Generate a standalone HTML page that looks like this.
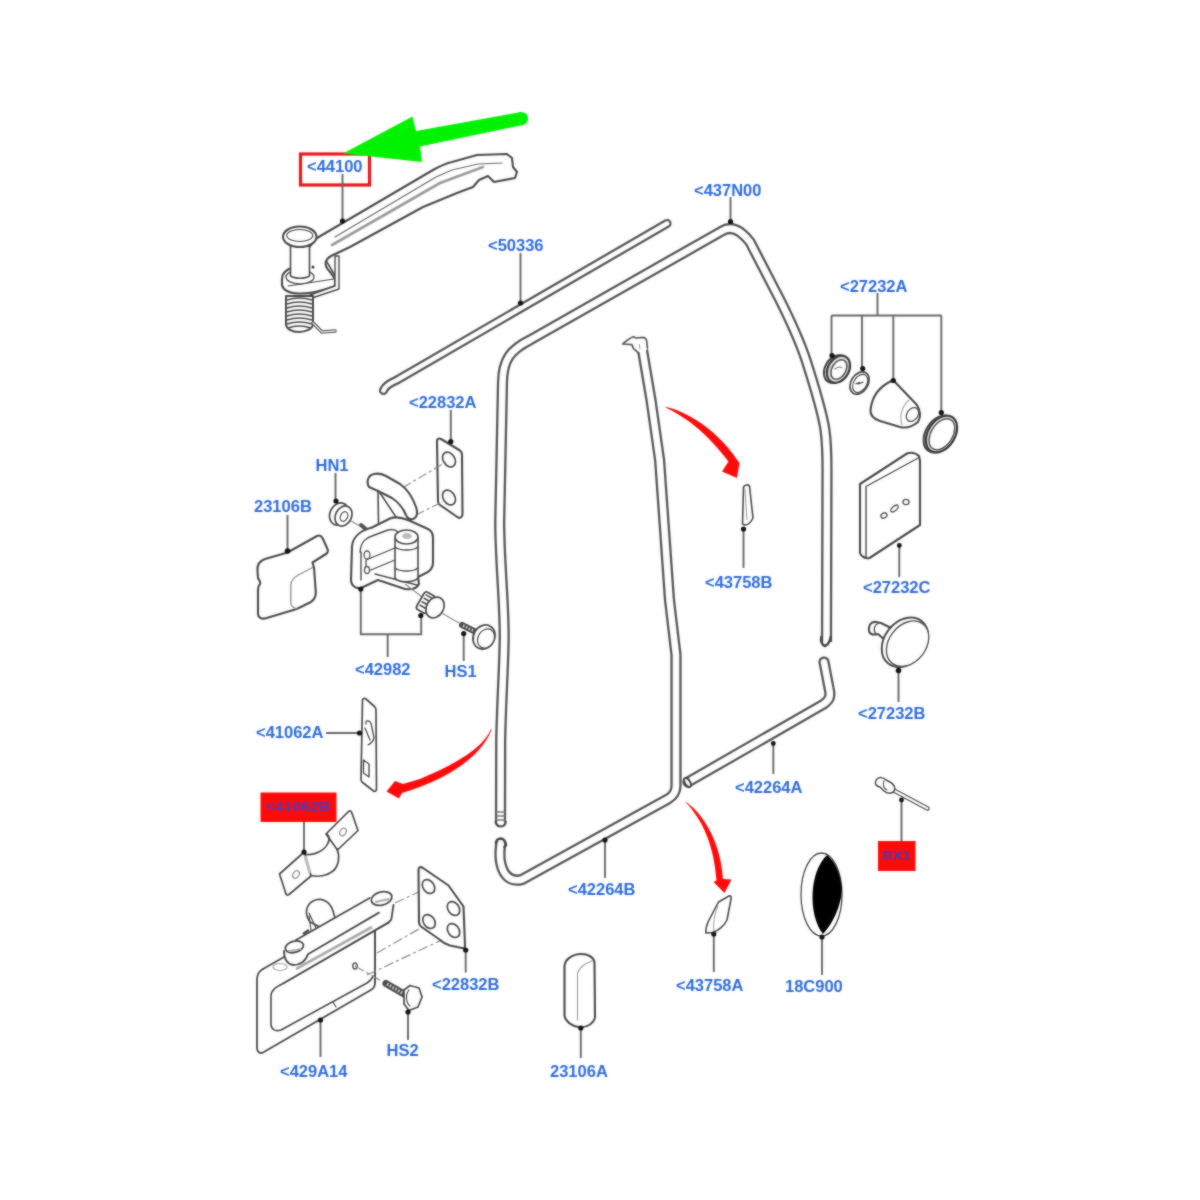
<!DOCTYPE html>
<html><head><meta charset="utf-8">
<style>
html,body{margin:0;padding:0;background:#fff;width:1200px;height:1200px;overflow:hidden}
svg{display:block}
.t{font-family:"Liberation Sans",sans-serif;font-weight:bold;font-size:16.5px;fill:#2d6bdc}
.l{stroke:#666;stroke-width:1.9;fill:none}
.p{stroke:#484848;stroke-width:2.1;fill:#fff;stroke-linejoin:round;stroke-linecap:round}
.q{stroke:#484848;stroke-width:1.6;fill:none;stroke-linejoin:round;stroke-linecap:round}
</style></head>
<body>
<svg width="1200" height="1200" viewBox="0 0 1200 1200">
<defs><filter id="soft" x="0" y="0" width="1200" height="1200" filterUnits="userSpaceOnUse" color-interpolation-filters="sRGB"><feGaussianBlur in="SourceGraphic" stdDeviation="0.8" result="bl"/><feComposite in="SourceGraphic" in2="bl" operator="arithmetic" k1="0" k2="0.5" k3="0.5" k4="0"/></filter></defs>
<g filter="url(#soft)">
<rect x="0" y="0" width="1200" height="1200" fill="#fff"/>

<!--HANDLE 44100-->
<g>
<rect x="300.5" y="154" width="69" height="31" fill="none" stroke="#e8141c" stroke-width="3.2"/>
<line class="l" x1="342.5" y1="174" x2="342.5" y2="221"/>
<!-- arm -->
<path class="p" d="M317,238 L433,170 C440,166 444,164 452,162 L477,155 L507,154 L512,158 L513,167 L517,172 L515,178 L494,182 L488,176 L479,180 L473,187 L457,193 L423,207 L350,247 L331,256 C324,260 324,266 330,272 L335,279 L335,286 C322,291 308,294 298,293.5 C289,293 283,290 282,285 L282,279 C282,274 286,270 291,268 Z"/>
<path style="stroke-width:1.2;stroke:#666" class="q" d="M335,237 L436,177 L452,170 L478,164 L502,163"/>
<path style="stroke:#999;stroke-width:2.6" class="q" d="M332,245 L440,183 L483,167"/>
<path class="q" d="M327,262 L335,276"/>
<path style="stroke-width:1.1" class="q" d="M288,286 L334,279"/>
<!-- vertical tab -->
<path style="stroke-width:1.4" class="p" d="M335,256 L339,256 L339,289 L312,298 L310,295 L335,286 Z"/>
<!-- ring hole -->
<ellipse cx="300" cy="277" rx="14" ry="7" fill="#fff" stroke="#505050" stroke-width="1.4"/>
<!-- pin shaft -->
<path style="stroke-width:1.6" class="p" d="M290.5,246 L290.5,276 C295,279 305,279 309.5,276 L309.5,246 Z"/>
<circle cx="313" cy="267" r="1.5" fill="#333"/>
<!-- pin head -->
<ellipse cx="299.75" cy="236.75" rx="16.75" ry="10.25" class="p"/>
<ellipse cx="299.75" cy="235.5" rx="13" ry="6" fill="none" stroke="#444" stroke-width="1.1"/>
<!-- spring -->
<path class="p" d="M286,296 L313,296 L313,324 C313,331 300,332 299,332 C292,332 286,329 286,324 Z" style="stroke-width:2"/>
<g fill="none" stroke="#4a4a4a" stroke-width="1.5">
<path d="M287,300 Q299,296 312,300"/><path d="M287,304 Q299,300 312,304"/><path d="M287,308 Q299,304 312,308"/>
<path d="M287,312 Q299,308 312,312"/><path d="M287,316 Q299,312 312,316"/><path d="M287,320 Q299,316 312,320"/><path d="M287,324 Q299,320 312,324"/><path d="M288,328 Q299,324 311,328"/>
</g>
<path d="M313,323 L322,332 L335,331" fill="none" stroke="#555" stroke-width="3.6" stroke-linecap="round"/>
<path d="M313,323 L322,332 L335,331" fill="none" stroke="#ddd" stroke-width="1.4" stroke-linecap="round"/>
<circle cx="342.5" cy="221" r="2.6" fill="#111"/>
</g>
<!--GREEN ARROW-->
<g fill="#00f200" stroke="none">
<path d="M343,153.5 L412.5,116.5 L416,131 L521,112 L523,125 L420,146.5 L422,162 Z"/>
<circle cx="521.5" cy="118.5" r="6.6"/>
</g>

<!--TUBES-->
<g fill="none" stroke-linejoin="round">
<!-- 50336 strip -->
<path d="M383.5,390.5 C385,386 390,383 397,380 L667,223.5" stroke="#555" stroke-width="9.2" stroke-linecap="round"/>
<path d="M383.5,390.5 C385,386 390,383 397,380 L667,223.5" stroke="#fff" stroke-width="4.6" stroke-linecap="round"/>
<!-- 437N00 frame -->
<path d="M500.5,822 L500.7,740 C501.5,700 504.2,660 504.2,636 C504.2,600 499.7,560 499.7,522 L502.5,382 C503,360 510,350 530,340 L722,231 C728,227 734,228 740,232 C744,235 747,238 750,242 L780,300 C790,320 800,342 806,360 C814,385 822,410 825,430 C827,445 827,455 827,470 L826.5,642" stroke="#555" stroke-width="11.2"/>
<path d="M500.5,822 L500.7,740 C501.5,700 504.2,660 504.2,636 C504.2,600 499.7,560 499.7,522 L502.5,382 C503,360 510,350 530,340 L722,231 C728,227 734,228 740,232 C744,235 747,238 750,242 L780,300 C790,320 800,342 806,360 C814,385 822,410 825,430 C827,445 827,455 827,470 L826.5,642" stroke="#fff" stroke-width="6.6"/>
<!-- channel 43758B + 42264B -->
<path d="M642,347 L651,400 L659.6,460 L669.5,600 L676,655 L676,786 C676,792 673,796 668,799 L522,879.5 C505,884 497,866 501,842" stroke="#555" stroke-width="11.2"/>
<path d="M642,347 L651,400 L659.6,460 L669.5,600 L676,655 L676,786 C676,792 673,796 668,799 L522,879.5 C505,884 497,866 501,842" stroke="#fff" stroke-width="6.6"/>
<!-- channel top cap -->
<path d="M622.7,344 C626,341 630,338 633.3,336.7 L636,338 L643.3,337.3 C645,337.5 646,338.5 646.5,340 L647,350 L638.7,352.5 L633.5,348.7 L632,344.7 Z" fill="#fff" stroke="none"/>
<path d="M638.7,353 L633.5,348.7 L632,344.7 L622.7,344 C626,341 630,338 633.3,336.7 L636,338 L643.3,337.3 C645,337.5 646,338.5 646.5,340 L647.5,348" fill="none" stroke="#555" stroke-width="1.7" stroke-linejoin="round"/>
<path d="M639.3,344 L640,349.3" stroke="#999" stroke-width="1"/>
<!-- 42264A -->
<path d="M688,782 L823,704.5 C830,700 831,696 829,688 L824,662" stroke="#555" stroke-width="11.2" stroke-linecap="round"/>
<path d="M688,782 L823,704.5 C830,700 831,696 829,688 L824,662" stroke="#fff" stroke-width="6.6" stroke-linecap="round"/>
<ellipse cx="687.5" cy="782.5" rx="2.6" ry="5" transform="rotate(-30 687.5 782.5)" fill="#fff" stroke="#444" stroke-width="2"/>
<!-- frame bottom-left ribbed end -->
<path d="M496,812 L505,812 M496,816 L505,816 M496,820 L505,820" stroke="#777" stroke-width="1.3"/>
<path d="M495.5,821 C496,825 498,826.5 500.8,826.5 C503.5,826.5 505.5,825 505.8,821" fill="none" stroke="#444" stroke-width="2.2"/>
<path d="M495.8,844 C496,840 498,838.5 500.8,838.5 C504,839 505.5,841 506,845 L504,848" fill="none" stroke="#444" stroke-width="2.4"/>
<!-- frame right end -->
<path d="M821.5,636 C820,641 822,645 825,646 C828,645 830,641 831,636" stroke="#444" stroke-width="2.4"/>
</g>

<!--RIGHT PARTS-->
<g>
<!-- 437N00 leader -->
<line class="l" x1="730.5" y1="197" x2="730.5" y2="221"/><circle cx="730.5" cy="221.5" r="2.6" fill="#111"/>
<!-- 50336 leader -->
<line class="l" x1="520.5" y1="253" x2="520.5" y2="303"/><circle cx="520.5" cy="303" r="2.6" fill="#111"/>
<!-- 27232A bracket -->
<path class="l" d="M877.5,293 V315.5 M831.5,315.5 H941.5 M831.5,315.5 V355 M862,315.5 V368 M893.3,315.5 V380 M941.3,315.5 V412"/>
<!-- ring1 -->
<g transform="translate(838,369) rotate(30)">
<ellipse cx="-1.8" cy="1.2" rx="10.8" ry="14.8" fill="#fff" stroke="#444" stroke-width="2"/>
<ellipse cx="0.5" cy="0" rx="10.5" ry="14.5" fill="#ddd" stroke="#3a3a3a" stroke-width="2.2"/>
<ellipse cx="1" cy="0" rx="7" ry="10.5" fill="#fff" stroke="#555" stroke-width="1.6"/>
<path d="M-3,2 Q0,-4 3,-3" fill="none" stroke="#777" stroke-width="1"/>
</g>
<circle cx="832" cy="355.5" r="2.6" fill="#111"/>
<!-- ring2 -->
<g transform="translate(859.5,383) rotate(32)">
<ellipse cx="0" cy="0" rx="8.5" ry="12" fill="#fff" stroke="#484848" stroke-width="1.7"/>
<ellipse cx="0.8" cy="0" rx="6.5" ry="9.8" fill="none" stroke="#444" stroke-width="1.1"/>
<path d="M-3,3 L0,-1 L-1,2 L3,-3" fill="none" stroke="#444" stroke-width="1"/>
</g>
<circle cx="862.7" cy="368.5" r="2.6" fill="#111"/>
<!-- cone -->
<path class="p" d="M892.5,380.5 C880,386 872,396 870.5,410 C870,416 874,419 880,421 L900,427 C906,428.5 912,427 918,422 C921,417 921,412 917,405 L894,381 Z"/>
<ellipse cx="912.5" cy="414.5" rx="5.5" ry="7.5" transform="rotate(35 912.5 414.5)" fill="#fff" stroke="#505050" stroke-width="1.3"/>
<path d="M909,400 C902,406 899,416 902,425" fill="none" stroke="#aaa" stroke-width="1.2"/>
<circle cx="893.3" cy="380.5" r="2.6" fill="#111"/>
<!-- ring4 -->
<g transform="translate(941.5,434) rotate(32)">
<ellipse cx="-2" cy="1.2" rx="13.5" ry="20" fill="#fff" stroke="#444" stroke-width="2"/>
<ellipse cx="0" cy="0" rx="13.5" ry="20" fill="#ddd" stroke="#3a3a3a" stroke-width="2.2"/>
<ellipse cx="0.5" cy="0" rx="10.8" ry="17" fill="#fff" stroke="#555" stroke-width="1.4"/>
</g>
<circle cx="941.3" cy="412.5" r="2.6" fill="#111"/>
<!-- plate 27232C -->
<path class="p" d="M860,484 L907,453.5 C911,452 916,453 919,456 L920,461 L920,525 L869.5,558 C865,559 861,556 860,553 Z"/>
<path style="stroke-width:1.4" class="q" d="M866,486.5 L866,557 M866,486.5 L919,457.5"/>
<g fill="#fff" stroke="#505050" stroke-width="1.3">
<ellipse cx="884" cy="515.5" rx="3.2" ry="2.4" transform="rotate(-30 884 515.5)"/>
<ellipse cx="894.5" cy="508.5" rx="4.5" ry="2.2" transform="rotate(-40 894.5 508.5)"/>
<ellipse cx="906" cy="502" rx="3" ry="2.6"/>
</g>
<line class="l" x1="899.3" y1="546" x2="899.3" y2="577"/><circle cx="899.3" cy="545.5" r="2.4" fill="#111"/>
<!-- knob 27232B -->
<path class="p" d="M876,622 C871,621 868,626 869,631 C870,635 874,635 878,634 L886,641 L893,629 L881,623 Z"/>
<path style="stroke-width:1.2" class="q" d="M878,623.5 C874,625 873,631 876,634"/>
<g transform="translate(906.5,643.5) rotate(38)">
<ellipse cx="-2" cy="0" rx="20.5" ry="27" fill="#fff" stroke="#484848" stroke-width="2"/>
<ellipse cx="1" cy="-0.5" rx="18.5" ry="25" fill="#fff" stroke="#505050" stroke-width="1.4"/>
</g>
<line class="l" x1="898.5" y1="671" x2="898.5" y2="702"/><circle cx="898.5" cy="670.5" r="2.8" fill="#111"/>
<!-- 42264A leader -->
<line class="l" x1="773.3" y1="743.5" x2="773.3" y2="774"/><circle cx="773.3" cy="743.5" r="2.4" fill="#111"/>
<!-- RX1 rivet -->
<path d="M893,790 L927.5,808.5" stroke="#505050" stroke-width="4.6" stroke-linecap="round" fill="none"/>
<path d="M893,790 L927.5,808.5" stroke="#fff" stroke-width="2" stroke-linecap="round" fill="none"/>
<path style="stroke-width:1.5" class="p" d="M877,779 C874,782 875,786 880,787 L884,791 C887,794 892,794 894,791 C896,788 894,784 890,782 L886,780 C883,777 879,777 877,779 Z"/>
<path style="stroke-width:1.1" class="q" d="M884,781 C882,784 884,789 887,790"/>
<rect x="878" y="841" width="37.5" height="30" fill="#ff0a0a"/>
<line class="l" x1="901.5" y1="800" x2="901.5" y2="841"/><circle cx="901.5" cy="800" r="2.4" fill="#111"/>
<text x="882.5" y="860" font-family="Liberation Sans,sans-serif" font-weight="bold" font-size="13" fill="#3d3db8" textLength="28" lengthAdjust="spacingAndGlyphs">RX1</text>
<!-- 18C900 -->
<ellipse cx="821.5" cy="894.5" rx="20.5" ry="41.5" fill="#fff" stroke="#484848" stroke-width="1.3"/>
<path d="M827,855 C809,872 808,915 823,934 C838,918 843,895 841.5,886 C840,872 835,862 827,855 Z" fill="#000"/>
<line class="l" x1="822" y1="937" x2="822" y2="975"/><circle cx="822" cy="937" r="2.6" fill="#111"/>
<!-- 43758B wedge -->
<path style="stroke-width:1.6" class="p" d="M743.5,487 C745,485 748,484 749.5,486 L753,518 C751,522 748,525 745,525 L742.5,524 Z"/>
<path style="stroke:#999;stroke-width:1" class="q" d="M745,489 L747,520"/>
<line class="l" x1="743.5" y1="529" x2="743.5" y2="568"/><circle cx="743.5" cy="529" r="2.6" fill="#111"/>
<!-- 43758A wedge -->
<path style="stroke-width:1.6" class="p" d="M718.5,902 L729,896 C731,895.5 731.5,897 731,899 L727,920 C724,926 718,931 713,932.5 L706,933 C705,930 707,925 708,922 Z"/>
<path style="stroke:#999;stroke-width:1" class="q" d="M718,906 C714,915 713,925 714,931"/>
<line class="l" x1="713.8" y1="934" x2="713.8" y2="972"/><circle cx="713.8" cy="934" r="2.6" fill="#111"/>
<!-- 23106A -->
<path class="p" d="M564.5,966 C565,959 573,954 581,954 C588,954 594,957 594.5,963 L595,1018 C593,1024 587,1027 580.5,1027.5 C573,1027 566,1022 564.5,1016 Z"/>
<path style="stroke:#999;stroke-width:1.1" class="q" d="M592,961 C586,963 580,966 577.5,973 L577.5,1020"/>
<line class="l" x1="580.8" y1="1028" x2="580.8" y2="1058"/><circle cx="580.8" cy="1028" r="2.6" fill="#111"/>
<!-- 42264B leader -->
<line class="l" x1="605" y1="840" x2="605" y2="878"/><circle cx="605" cy="840" r="2.6" fill="#111"/>
</g>

<!--LEFT PARTS-->
<g>
<!-- 22832A plate -->
<line class="l" x1="450.8" y1="410" x2="450.8" y2="441"/>
<path class="p" d="M437,441 C437,438.5 439,438 441,439 L460,450.5 C461.5,451.5 462,453 462,455 L462.5,514 C462.5,517 460.5,518.5 458,517.5 L440,505 C438.5,504 438,502.5 438,501 Z"/>
<g fill="#fff" stroke="#484848" stroke-width="1.7">
<ellipse cx="449" cy="459.5" rx="5.8" ry="8" transform="rotate(-32 449 459.5)"/>
<ellipse cx="449" cy="497.5" rx="5.8" ry="8" transform="rotate(-32 449 497.5)"/>
</g>
<circle cx="450.8" cy="441.5" r="2.6" fill="#111"/>
<!-- dashed to holes -->
<path d="M403,487.5 L446,462 M416,515 L446,500" stroke="#888" stroke-width="1.2" stroke-dasharray="9,3,3,3" fill="none"/>
<!-- hinge 42982 -->
<!-- latch arm -->
<path class="p" d="M369,487 C366,482 368,475 374,474 C378,473 382,474 386,476 L400,484 C407,489 413,498 416,507 C418,513 417,518 413,519 C410,520 407,518 406,515 C403,508 398,502 392,498 L378,491 Z"/>
<path style="stroke-width:1.6" class="q" d="M378,491 L378.5,523 M380,493 L398,520"/>
<!-- nut stub + dashed -->
<path d="M349,520 L362,527" stroke="#888" stroke-width="1.2" fill="none"/>
<path d="M361,525 L368,531" stroke="#505050" stroke-width="4" stroke-linecap="round" fill="none"/>
<!-- main bracket body -->
<path class="p" d="M352,546 C353,536 362,530 372,527.5 L390,518.5 C396,516 403,518 408,520 L428,529 C432,531 433,534 433,538 L433,563 C433,568 429,572 424,574 L418,577 L419,584 C417,588 412,590 405,589 L378,580 L361,588 C355,589 351,585 351,580 Z"/>
<path style="stroke-width:1.4" class="q" d="M360,552 C361,541 366,538 372,536 L388,530 C392,529 396,530 398,532 M361,552 L361,580 M375,574 L417,585"/>
<path style="stroke-width:1.3" class="q" d="M366,560 L395,548 M366,572 L395,560 M366,560 L366,572"/>
<ellipse cx="367" cy="555" rx="3" ry="4" fill="#fff" stroke="#505050" stroke-width="1.3"/>
<ellipse cx="367" cy="570" rx="2.5" ry="3.5" fill="#fff" stroke="#505050" stroke-width="1.3"/>
<!-- barrel -->
<path style="stroke-width:1.6" class="p" d="M395,538 L395,578 C398,583 414,583 418,578 L418,538 Z"/>
<ellipse cx="406.5" cy="537" rx="11.5" ry="7" fill="#fff" stroke="#484848" stroke-width="1.6"/>
<ellipse cx="407" cy="536" rx="5" ry="3" fill="#bbb" stroke="none"/>
<path style="stroke-width:1.3" class="q" d="M395,547 C400,551 413,551 418,547 M395,568 C400,572 413,572 418,568"/>
<!-- bushing -->
<path d="M405,584 L442,612" stroke="#888" stroke-width="1.2" fill="none"/>
<g transform="translate(426,604) rotate(30)">
<rect x="-7" y="-11" width="12" height="20" rx="3" fill="#fff" stroke="#484848" stroke-width="1.8"/>
<path d="M-5,-8 L3,-8 M-5,-4 L3,-4 M-5,0 L3,0 M-5,4 L3,4" stroke="#505050" stroke-width="1.6"/>
</g>
<ellipse cx="435" cy="607.5" rx="8.5" ry="11" transform="rotate(30 435 607.5)" fill="#fff" stroke="#484848" stroke-width="1.7"/>
<!-- bracket leader -->
<path class="l" d="M360.8,589 V634.2 H421.2 V615.5 M387.7,634.2 V657"/>
<circle cx="360.8" cy="589" r="2.6" fill="#111"/><circle cx="420.8" cy="615.5" r="2.6" fill="#111"/>
<!-- HN1 nut -->
<line class="l" x1="335.5" y1="473" x2="335.5" y2="501"/>
<ellipse cx="339" cy="514" rx="9" ry="11.5" transform="rotate(25 339 514)" fill="#fff" stroke="#484848" stroke-width="1.7"/>
<ellipse cx="343.5" cy="516" rx="8" ry="10.5" transform="rotate(25 343.5 516)" fill="#fff" stroke="#484848" stroke-width="1.7"/>
<ellipse cx="344" cy="516.5" rx="3.5" ry="5" transform="rotate(25 344 516.5)" fill="#fff" stroke="#505050" stroke-width="1.3"/>
<circle cx="336" cy="501" r="2.6" fill="#111"/>
<!-- HS1 bolt -->
<path d="M442.5,613.5 L459,623" stroke="#888" stroke-width="1.2" fill="none"/>
<path d="M462,625 L478,633" stroke="#484848" stroke-width="6" stroke-linecap="round" fill="none"/>
<path d="M463,625.5 L477,632.5" stroke="#ccc" stroke-width="2.6" stroke-dasharray="1.6,1.6" fill="none"/>
<ellipse cx="484" cy="637" rx="10.5" ry="12.5" transform="rotate(30 484 637)" fill="#fff" stroke="#484848" stroke-width="1.8"/>
<ellipse cx="486" cy="638.5" rx="8" ry="10" transform="rotate(30 486 638.5)" fill="#fff" stroke="#444" stroke-width="1.2"/>
<line class="l" x1="463.7" y1="634" x2="463.7" y2="661"/><circle cx="463.7" cy="633.5" r="2.6" fill="#111"/>
<!-- 23106B cover -->
<line class="l" x1="287.5" y1="515" x2="287.5" y2="551"/>
<path class="p" d="M287.5,552.5 L265,559 C259,561 257,566 257.5,571 L258,578 C259,580 261,582 260,584 C258,586 258,588 258,590 L258,614 C258,617 261,619 265,618.5 L296.7,609 L311,602 C315,599 316,596 315.8,592 L314,567.5 L312.5,562.5 L326.7,553.5 C328,552 328,550 327.5,549 L322.5,538 C321,535.5 319,535 317,536 Z"/>
<path style="stroke:#888;stroke-width:1.3" class="q" d="M312.5,567.5 L298.3,575 C293,578 291,581 290.8,585 L290.8,603 C291,606 294,608 296.7,609"/>
<circle cx="287.5" cy="551" r="2.8" fill="#111"/>
<!-- 41062A plate -->
<line class="l" x1="326" y1="733" x2="359.5" y2="733"/>
<path style="stroke-width:1.7" class="p" d="M362.5,700 C363,698 365,698 366,699 L375,707 C376,708 376,709 376,711 L376.5,789 C376.5,791 375,792 373.5,791 L362,782 C361,781 361,780 361,779 Z"/>
<path style="stroke-width:1.3" class="q" d="M366,724 C365,720 369,720 371,723 L374,738 C373,742 370,744 368,745 M365,728 L370,740"/>
<path style="stroke-width:1.4" class="q" d="M363.5,760 L369,764 L369,777 L363.5,773 Z"/>
<circle cx="359.5" cy="733" r="2.6" fill="#111"/>
<!-- 41062B red box + clip -->
<rect x="260.5" y="792.5" width="76" height="29.5" fill="#ff0a0a"/>
<text x="265.5" y="811" font-family="Liberation Sans,sans-serif" font-weight="bold" font-size="13" fill="#4a3cc0" textLength="65" lengthAdjust="spacingAndGlyphs">&lt;41062B</text>
<line class="l" x1="304" y1="822" x2="304" y2="852"/>
<path style="stroke-width:1.7" class="p" d="M279.5,874 L302,854 C303,853 304,853 305,854 L311,876 L289,894.5 C288,895.5 286.5,895 286,894 Z"/>
<path style="stroke-width:1.7" class="p" d="M326,834 L348.5,811.5 C349.5,810.5 351,811 351.5,812 L358,830.5 L337.5,850 Z"/>
<path style="stroke-width:1.7" class="q" d="M304,854 C312,856 324,852 328,843 C330,839 329,836 327,834 M337,849 C340,856 339,866 333,871 C327,876 318,877 311,875.5"/>
<path d="M305,856 L310,873" stroke="#bbb" stroke-width="3"/>
<ellipse cx="296" cy="874.5" rx="3" ry="4" transform="rotate(30 296 874.5)" fill="none" stroke="#888" stroke-width="1.2"/>
<ellipse cx="343" cy="832" rx="3" ry="4" transform="rotate(30 343 832)" fill="none" stroke="#888" stroke-width="1.2"/>
<circle cx="304" cy="852" r="2.6" fill="#111"/>
</g>

<!--BOTTOM PARTS-->
<g>
<!-- 429A14 lower hinge plate -->
<path d="M263,969 L285,957 L389,922 L375,931 L375,983 C375,987 373,989 370,990.5 L263,1052.5 C260,1054 257,1052 257,1048 L257,980 C257,975 259,971 263,969 Z" fill="#fff" stroke="none"/>
<path style="stroke-width:1.8" class="q" d="M375,931 L375,983 C375,987 373,989 370,990.5 L263,1052.5 C260,1054 257,1052 257,1048 L257,980 C257,975 259,971 263,969"/>
<path style="stroke-width:1.6" class="q" d="M389,922.5 L283,983.5 C276,987 271,990 271,996 L271,1024 C271,1029 275,1032 281,1030 L367,983 C370,981 372,979 373,976"/>
<path style="stroke-width:1.7" class="q" d="M375,931 L375,983"/>
<path style="stroke-width:1.2" class="q" d="M333,1002 L336,1007"/>
<!-- round bump -->
<path style="stroke-width:1.7" class="p" d="M310,922 C304,914 306,905 313,901 C321,897 330,901 333,911 L335,918 L320,927 Z"/>
<path style="stroke-width:1.2" class="q" d="M309,913 L316,928 M309,916 L311,930"/>
<path d="M303,934 L309,930" stroke="#484848" stroke-width="2.6"/>
<!-- bar top face -->
<path style="stroke-width:0" class="p" d="M296,940 L369.7,898 L382,892.5 L393.5,906.7 L391.3,919.7 L389,922 L283,983.5 L278,968 C283,963 284,958 284,951 C286,946 290,942 296,940 Z"/>
<path style="stroke-width:1.8" class="q" d="M296,940 L369.7,898 M393.5,905 L391.3,919.7 L389,922"/>
<path d="M296,969 L372,927" stroke="#aaa" stroke-width="2.6" fill="none"/>
<path style="stroke-width:1.8" class="q" d="M379,912.6 L307.9,954.3 C306,961 300,965 293,965 C288,964 284,960 284,951"/>
<path style="stroke-width:1.7" class="q" d="M389,922 L283,983.5"/>
<path style="stroke-width:1.7" class="q" d="M263,969 L284,957"/>
<ellipse cx="294.4" cy="946.8" rx="9.3" ry="5.6" transform="rotate(-15 294.4 946.8)" fill="#fff" stroke="#484848" stroke-width="1.8"/>
<path d="M288,951 L301,949" stroke="#aaa" stroke-width="1.6"/>
<ellipse cx="381.6" cy="898.5" rx="10.5" ry="6.5" transform="rotate(-15 381.6 898.5)" fill="#fff" stroke="#484848" stroke-width="1.8"/>
<path d="M375,902 L389,899" stroke="#aaa" stroke-width="1.8"/>
<ellipse cx="280" cy="967" rx="7" ry="3.5" fill="none" stroke="#aaa" stroke-width="1.2"/>
<ellipse cx="355" cy="966" rx="2.2" ry="3" fill="none" stroke="#505050" stroke-width="1.4"/>
<line class="l" x1="320.5" y1="1020" x2="320.5" y2="1057"/><circle cx="320.5" cy="1020" r="2.6" fill="#111"/>
<!-- dashed to 22832B -->
<path d="M395,903 L423,890 M377,953 L421.5,927.5 M367,975 L450,936 M355,966 L385,983" stroke="#888" stroke-width="1.2" stroke-dasharray="10,3,3,3" fill="none"/>
<!-- 22832B plate -->
<path class="p" d="M418.5,870 C418.5,867 420.5,866.5 423,868 L448.5,885.5 L463.5,906.5 L465,946 C465,948 464,948.5 462,948 L450,945.5 C445,944 442,942 439.5,939.5 L421,926.5 C419.5,925.5 419,924 419,922 Z"/>
<g fill="#fff" stroke="#484848" stroke-width="1.7">
<ellipse cx="428.5" cy="886.5" rx="5.5" ry="7.5" transform="rotate(-35 428.5 886.5)"/>
<ellipse cx="453.5" cy="908.5" rx="5.5" ry="7.5" transform="rotate(-35 453.5 908.5)"/>
<ellipse cx="429" cy="921.5" rx="5.5" ry="7.5" transform="rotate(-35 429 921.5)"/>
<ellipse cx="453.5" cy="930.5" rx="5.5" ry="7.5" transform="rotate(-35 453.5 930.5)"/>
</g>
<line class="l" x1="465.7" y1="950" x2="465.7" y2="972.5"/><circle cx="465.7" cy="950" r="2.6" fill="#111"/>
<!-- HS2 bolt -->
<path d="M386,983.5 L404,994" stroke="#484848" stroke-width="7" stroke-linecap="round" fill="none"/>
<path d="M387,984 L403,993.5" stroke="#ccc" stroke-width="3.2" stroke-dasharray="1.6,1.6" fill="none"/>
<path style="stroke-width:1.7" class="p" d="M404,990 L410,985.5 L419,988 L422,997 L418,1007 L409,1010.5 L404,1004 Z"/>
<path style="stroke-width:1.2" class="q" d="M409,990 C405,995 406,1003 410,1006"/>
<line class="l" x1="408" y1="1012" x2="408" y2="1040"/><circle cx="408" cy="1012" r="2.6" fill="#111"/>
</g>
<!--RED ARROWS-->
<g fill="#ff0a0a" stroke="none">
<path d="M665.8,406.7 C688,412 716,430 734,455.5 L739.5,463 L737,478 L722,471.5 L728.5,461.5 C714,443 697,423 666.5,408 Z"/>
<path d="M491,729 C484,745 465,760 420,779 L403,784 L395,781 L386.5,791.5 L399,798.5 L402,793 C443,781 480,759 491.5,730 Z"/>
<path d="M684.5,801 C706,815 721,846 723,879 L731.5,879.5 L724.5,893 L713.5,882 L716.5,880.5 C714,847 704,821 684.5,801 Z"/>
</g>
<!--LABELS-->
<g class="t">
<text x="307" y="172">&lt;44100</text>
<text x="694" y="195.5">&lt;437N00</text>
<text x="488" y="251">&lt;50336</text>
<text x="840" y="292">&lt;27232A</text>
<text x="409" y="408">&lt;22832A</text>
<text x="315.5" y="471">HN1</text>
<text x="254" y="512">23106B</text>
<text x="705" y="588">&lt;43758B</text>
<text x="863" y="592.5">&lt;27232C</text>
<text x="355" y="675">&lt;42982</text>
<text x="444.5" y="677">HS1</text>
<text x="858" y="719">&lt;27232B</text>
<text x="256" y="738">&lt;41062A</text>
<text x="735" y="793">&lt;42264A</text>
<text x="568" y="895">&lt;42264B</text>
<text x="432" y="990">&lt;22832B</text>
<text x="676" y="991">&lt;43758A</text>
<text x="785" y="992">18C900</text>
<text x="386.5" y="1056">HS2</text>
<text x="280" y="1077">&lt;429A14</text>
<text x="550" y="1077">23106A</text>
</g>
</g>
</svg>
</body></html>
